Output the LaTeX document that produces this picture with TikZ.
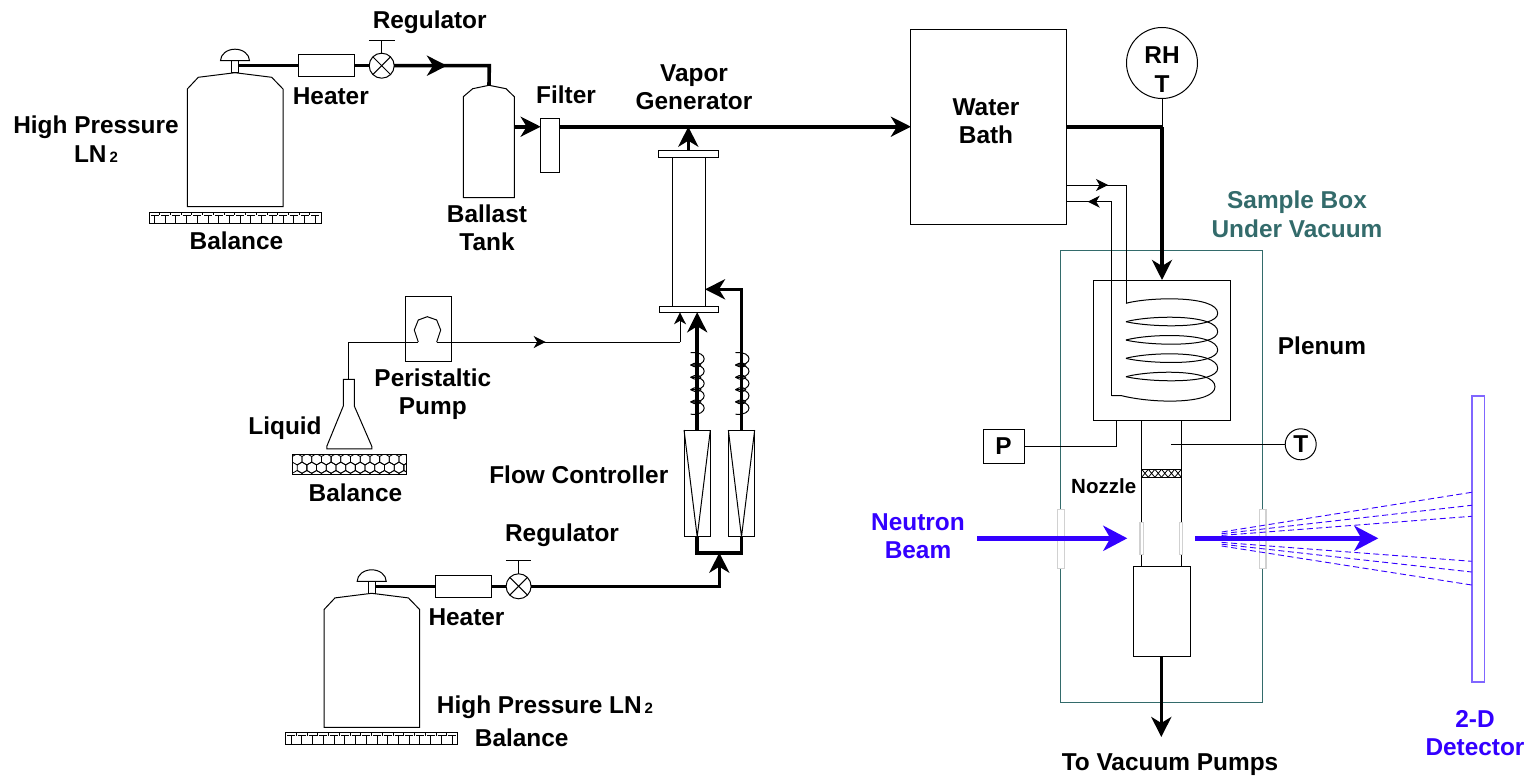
\documentclass[tikz,border=0pt]{standalone}
\usepackage{fontspec}
\setmainfont{Liberation Sans}
\usetikzlibrary{arrows.meta,calc}
\definecolor{boxteal}{HTML}{336B6B}
\definecolor{beamblue}{HTML}{3300FF}
\definecolor{detblue}{HTML}{8066FF}
\tikzset{
    block/.style = {draw, rectangle, fill=white, inner sep=0pt, outer sep=0pt, line width=1pt},
    gauge/.style = {draw, circle, fill=white, inner sep=0pt, outer sep=0pt, line width=1pt, align=center,
        font=\fontsize{24.4}{25}\selectfont\bfseries},
    glass/.style = {block, draw=black!18, line width=1.2pt},
    lbl/.style = {inner sep=0pt, align=center, font=\fontsize{24.4}{28.5}\selectfont\bfseries},
    lblone/.style = {lbl, text height=17.4pt, text depth=0pt},
    thinline/.style = {line width=1pt},
    pipe/.style = {line width=3.6pt, line join=miter},
    pipetip/.style = {pipe, -{Stealth[length=20pt,width=20pt,inset=6pt]}},
    smalltip/.style = {thinline, -{Stealth[length=12pt,width=12pt,inset=3.5pt]}},
    beam/.style = {line width=4.6pt, beamblue, -{Stealth[length=24pt,width=25pt,inset=7pt]}},
    scatter/.style = {line width=.9pt, beamblue, dash pattern=on 6pt off 3.5pt}
}
\def\bigtank{%
    -- +(36.7,4.6) -- +(48,16.3) -- +(48,134) -- +(-47.7,134) -- +(-47.7,16.3) -- +(-36.7,4.6) -- cycle
}
\def\ballasttank{%
    -- +(17,3.4) -- +(25.3,11.4) -- +(25.3,112.4) -- +(-25.7,112.4) -- +(-25.7,11.4) -- +(-16.3,3.4) -- cycle
}
\def\dome{%
    ++(-14.5,0) arc[start angle=180, end angle=360, x radius=14.5, y radius=11.5] -- cycle
}
\newcommand{\brickfill}[1]{%
    \foreach \i in {0,...,15} {
        \draw[thinline] ($(#1.north west)+(\i*10.73,0)$) -- +(0,3);
        \draw[thinline] ($(#1.north west)+(\i*10.73+1.5,3)$) -- +(8,0);
        \draw[thinline] ($(#1.north west)+(\i*10.73+5.4,3)$) -- +(0,8.7);
    }
}
\newcommand{\valvecross}[1]{%
    \draw[thinline] (#1.45) -- (#1.225) (#1.135) -- (#1.315);
    \draw[thinline] (#1.north) -- +(0,-13) +(-12.8,-13) -- +(12.8,-13);
}
\newcommand{\heatcoil}[1]{%
    \begin{scope}[shift={(#1)}]
    \foreach \i in {0,...,4}
        \draw[thinline] (-6,\i*12.3) .. controls (12,\i*12.3-2) and (12,\i*12.3+14.3) .. (-6,\i*12.3+12.3);
    \foreach \i in {1,...,4}
        \draw[thinline] (-6,\i*12.3) .. controls (-1,\i*12.3-3) and (2,\i*12.3-2.5) .. (4,\i*12.3) .. controls (2,\i*12.3+2.5) and (-1,\i*12.3+3) .. (-6,\i*12.3);
    \end{scope}
}
\newcommand{\LNtwo}{LN\hspace{3pt}{\fontsize{15}{15}\selectfont 2}}

\begin{document}
\begin{tikzpicture}[x=1pt, y=-1pt]
    \useasboundingbox (0,0) rectangle (1527,776);
    % upper gas supply
    \coordinate (tank1) at (235,72.7);
    \coordinate (ball) at (489,85.3);
    \node [block, minimum width=6.6pt, minimum height=12pt] (neck1) at (235,66.7) {};
    \draw [thinline] (tank1) \bigtank;
    \draw [thinline, fill=white] (neck1.north) \dome;
    \node [block, minimum width=172pt, minimum height=11.7pt] (bal1) at (235,217.9) {};
    \brickfill{bal1}
    \node [block, minimum width=56pt, minimum height=21.4pt] (heat1) at (326.3,65.7) {};
    \node [gauge, minimum size=25pt] (valve1) at (381.7,65.7) {};
    \valvecross{valve1}
    \draw [thinline] (ball) \ballasttank;
    \node [block, minimum width=19.3pt, minimum height=54.4pt] (filt) at (550.3,145.5) {};
    \coordinate (arrow1) at (447,65.7);
    \coordinate (elbow1) at (489.3,65.7);
    \coordinate (ballout) at (514.3,126.7);
    \draw [pipe] (neck1.east |- heat1.west) -- (heat1.west);
    \draw [pipe] (heat1.east) -- (valve1.west);
    \draw [pipe] (valve1.east) -- (elbow1) -- (ball);
    \draw [pipetip] (valve1.east) -- (arrow1);
    \draw [pipetip] (ballout) -- (filt.west |- ballout);

    % vapor generator
    \node [block, minimum width=33pt, minimum height=149pt] (gen) at (688.5,231.5) {};
    \node [block, minimum width=60pt, minimum height=6.6pt] (flangetop) at (688.3,154) {};
    \node [block, minimum width=59.3pt, minimum height=6pt] (flangebot) at (688.7,309.3) {};
    \node [block, minimum width=155.8pt, minimum height=194pt] (bath) at (988.8,127) {};
    \draw [pipetip] (filt.east |- ballout) -- (bath.west |- ballout);
    \draw [pipetip] (flangetop.north) -- (flangetop.north |- ballout);

    % liquid feed
    \coordinate (flask) at (348.8,379.3);
    \coordinate (pumpin) at (418.3,342);
    \coordinate (pumpout) at (436.7,342);
    \coordinate (arrow2) at (545.7,342);
    \coordinate (feedup) at (680,342);
    \node [block, fill=none, minimum width=46pt, minimum height=65pt] (pump) at (428.7,328.8) {};
    \draw [thinline] (flask) |- (pumpin);
    \draw [thinline] (pumpin) -- (414.3,330) -- (418.3,320) -- (427.3,316.7) -- (436.7,320) -- (440.7,330) -- (pumpout);
    \draw [thinline] (pumpout) -- (feedup);
    \draw [smalltip] (pumpout) -- (arrow2);
    \draw [smalltip] (feedup) -- (feedup |- flangebot.south);
    \draw [thinline] (flask) -- +(-5.5,0) -- +(-5.5,26.7) -- +(-22,67) -- +(-22,69.5) -- +(23,69.5) -- +(23,67) -- +(5.5,26.7) -- +(5.5,0) -- cycle;
    \node [block, minimum width=114.4pt, minimum height=19.3pt] (bal2) at (349.5,464.6) {};
    \begin{scope}
        \clip (bal2.north west) rectangle (bal2.south east);
        \foreach \r in {0,...,3}
            \foreach \c in {0,...,12}
                \draw [line width=.8pt] ({292.3+\c*9.7+mod(\r,2)*4.85},{456.5+\r*8.4}) -- +(4.85,-2.8) -- +(9.7,0) -- +(9.7,5.6) -- +(4.85,8.4) -- +(0,5.6) -- cycle;
    \end{scope}
    \draw [block, fill=none] (bal2.north west) rectangle (bal2.south east);

    % lower gas supply
    \coordinate (tank2) at (371.7,593.3);
    \node [block, minimum width=6.6pt, minimum height=12pt] (neck2) at (371.7,587.3) {};
    \draw [thinline] (tank2) \bigtank;
    \draw [thinline, fill=white] (neck2.north) \dome;
    \node [block, minimum width=172pt, minimum height=11.7pt] (bal3) at (371.8,738.5) {};
    \brickfill{bal3}
    \node [block, minimum width=56pt, minimum height=21.4pt] (heat2) at (463.3,586.3) {};
    \node [gauge, minimum size=25pt] (valve2) at (518.6,586.3) {};
    \valvecross{valve2}
    \node [block, minimum width=26.3pt, minimum height=106.7pt] (fc1) at (697.2,483.4) {};
    \node [block, minimum width=26.3pt, minimum height=106.7pt] (fc2) at (741.5,483.4) {};
    \draw [thinline] (fc1.north west) -- (fc1.south) -- (fc1.north east);
    \draw [thinline] (fc2.north west) -- (fc2.south) -- (fc2.north east);
    \coordinate (elbow3) at (719.3,586.3);
    \coordinate (mani) at (719.3,552.7);
    \coordinate (inlet2) at (705,289.3);
    \draw [pipe] (neck2.east |- heat2.west) -- (heat2.west);
    \draw [pipe] (heat2.east) -- (valve2.west);
    \draw [pipetip] (valve2.east) -- (elbow3) -- (mani);
    \draw [pipe] (fc1.south) |- (mani) -| (fc2.south);
    \draw [pipetip] (fc1.north) -- (fc1.north |- flangebot.south);
    \draw [pipetip] (fc2.north) |- (inlet2);
    \coordinate (coil1) at (696.7,352.7);
    \coordinate (coil2) at (741.5,352.7);
    \heatcoil{coil1}
    \heatcoil{coil2}

    % sample box
    \node [block, draw=boxteal, fill=none, minimum width=201.6pt, minimum height=452pt] (sbox) at (1161.5,476) {};
    \node [block, fill=none, minimum width=136.7pt, minimum height=140pt] (plen) at (1161.65,350) {};
    \node [block, minimum width=39.6pt, minimum height=146.6pt] (nozz) at (1161.5,493.3) {};
    \node [block, minimum width=39.6pt, minimum height=8pt] (mesh) at (1161.5,473.3) {};
    \foreach \i in {0,...,5}
        \draw [line width=.8pt] ($(mesh.north west)+(\i*6.6,0)$) -- +(6.6,8) +(6.6,0) -- +(0,8);
    \node [block, minimum width=56.7pt, minimum height=89.4pt] (vac) at (1161.7,611.4) {};
    \node [glass, minimum width=7pt, minimum height=59pt] (winl) at (1060.8,538.8) {};
    \node [glass, minimum width=6.7pt, minimum height=59pt] (winr) at (1262.6,538.8) {};
    \node [glass, minimum width=3.4pt, minimum height=32.4pt] (winnl) at (1141.7,538.5) {};
    \node [glass, minimum width=3.4pt, minimum height=32.4pt] (winnr) at (1181,538.5) {};
    \node [gauge, minimum size=71pt] (rht) at (1162,63) {};
    \node [gauge, minimum size=31pt] (tgauge) at (1300.7,444.3) {T};
    \node [gauge, rectangle, minimum width=41pt, minimum height=34pt] (pgauge) at (1003.5,446) {P};
    \coordinate (elbow2) at (rht.south |- bath.east);
    \draw [thinline] (rht.south) -- (elbow2);
    \draw [pipe] (bath.east) -- (elbow2);
    \draw [pipetip] (elbow2) -- (elbow2 |- plen.north);
    \coordinate (pumpend) at (1161.3,737);
    \draw [pipetip] (vac.south -| pumpend) -- (pumpend);
    \coordinate (pback) at (1116.3,446);
    \draw [thinline] (pgauge.east) -- (pback) -- (pback |- plen.south);
    \coordinate (tstub) at (1171,444.3);
    \draw [thinline] (tgauge.west) -- (tstub);

    % water lines and coil
    \coordinate (wat1) at (1066.7,185);
    \coordinate (wat2) at (1066.7,201.7);
    \coordinate (tipw1) at (1108,185);
    \coordinate (tipw2) at (1087.7,201.7);
    \coordinate (coiltop) at (1126,303.3);
    \coordinate (coilend) at (1111.7,395.7);
    \draw [thinline] (wat1) -| (coiltop);
    \draw [smalltip] (wat1) -- (tipw1);
    \draw [thinline] (coilend) |- (wat2);
    \draw [smalltip] (coilend |- wat2) -- (tipw2);
    \foreach \yy in {303.3,321.7,340,358.3}
        \draw [thinline] (1126,\yy) .. controls (1150,\yy-6.5) and (1217.7,\yy-8) .. (1217.7,\yy+10) .. controls (1217.7,\yy+26) and (1150,\yy+24) .. (1126,\yy+18.4);
    \draw [thinline] (1126,376.7) .. controls (1150,370.2) and (1215,368.7) .. (1215,386.7) .. controls (1215,404) and (1155,404) .. (1121.7,395.7) -- (coilend);

    % beam and detector
    \node [block, draw=detblue, line width=1.6pt, minimum width=12.6pt, minimum height=286pt] (det) at (1478,538.7) {};
    \coordinate (beamin) at (977,538.3);
    \coordinate (beamtip) at (1127.3,538.3);
    \coordinate (beamout) at (1195,538.3);
    \coordinate (beamend) at (1378.3,538.3);
    \draw [beam] (beamin) -- (beamtip);
    \draw [beam] (beamout) -- (beamend);
    \draw [scatter] (1221.7,532) -- (det.west |- 0,492.3);
    \draw [scatter] (1221.7,533.7) -- (det.west |- 0,505.3);
    \draw [scatter] (1221.7,535.4) -- (det.west |- 0,516.3);
    \draw [scatter] (1221.7,542.4) -- (det.west |- 0,561.3);
    \draw [scatter] (1221.7,544.2) -- (det.west |- 0,572);
    \draw [scatter] (1221.7,546) -- (det.west |- 0,585);

    % labels
    \node [lblone] (lreg1) at (429.7,20) {Regulator};
    \node [lblone] (lheat1) at (330.8,95.7) {Heater};
    \node [lblone] (lfilt) at (566,95) {Filter};
    \node [lbl] (lball) at (487,228) {Ballast\\Tank};
    \node [lblone] (lbal1) at (236.5,241) {Balance};
    \node [lbl] (lhp1) at (96,139) {High Pressure\\\LNtwo};
    \node [lbl] (lvap) at (694,87) {Vapor\\Generator};
    \node [lbl] (lbath) at (986,121) {Water\\Bath};
    \node [lbl] (lrht) at (1162,69.5) {RH\\T};
    \node [lbl, text=boxteal] (lbox) at (1297,214.5) {Sample Box\\Under Vacuum};
    \node [lblone] (lplen) at (1322,346) {Plenum};
    \node [lbl] (lpump) at (432.8,394) {Peristaltic\\Pump};
    \node [lblone] (lliq) at (285,426) {Liquid};
    \node [lblone] (lbal2) at (355.5,492.7) {Balance};
    \node [lblone] (lflow) at (578.8,474.7) {Flow Controller};
    \node [lblone] (lreg2) at (562,533) {Regulator};
    \node [lblone] (lheat2) at (466.5,616.7) {Heater};
    \node [lblone] (lhp2) at (545,705) {High Pressure \LNtwo};
    \node [lblone] (lbal3) at (521.7,738) {Balance};
    \node [lblone, font=\fontsize{20.5}{24}\selectfont\bfseries, text height=14.7pt] (lnoz) at (1103.7,485.7) {Nozzle};
    \node [lbl, text=beamblue] (lneut) at (918,536) {Neutron\\Beam};
    \node [lbl, text=beamblue] (ldet) at (1475,733) {2-D\\Detector};
    \node [lblone] (lpumps) at (1170,762) {To Vacuum Pumps};
\end{tikzpicture}
\end{document}
